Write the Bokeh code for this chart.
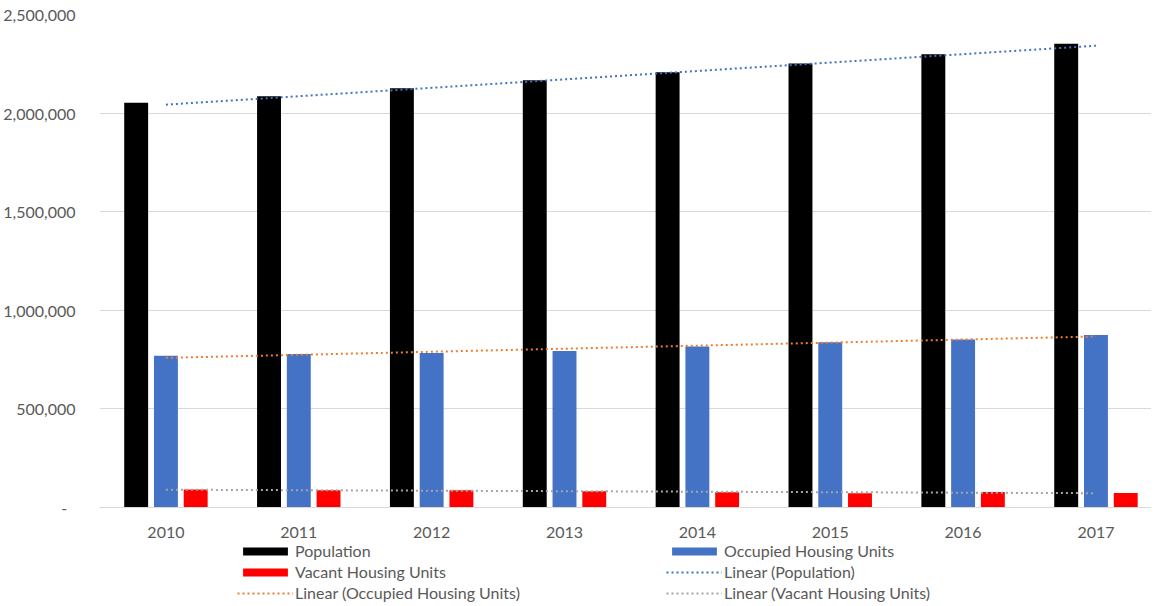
import numpy as np
from bokeh.plotting import figure
from bokeh.layouts import column
from bokeh.models import (ColumnDataSource, Range1d, FixedTicker, Legend, LegendItem,
                          NumeralTickFormatter)
from bokeh.transform import dodge
from bokeh.embed import file_html
from bokeh.resources import INLINE

years = ["2010", "2011", "2012", "2013", "2014", "2015", "2016", "2017"]
population = [2052000, 2085000, 2126000, 2166000, 2207000, 2252000, 2298000, 2352000]
occupied = [769000, 778000, 783000, 793000, 816000, 838000, 852000, 875000]
vacant = [91000, 87600, 87600, 82500, 77400, 72400, 79000, 74000]

FONT = "Lato"
TXT = "#595959"
C_POP, C_OCC, C_VAC = "#000000", "#4472C4", "#FF0000"
T_POP, T_OCC, T_VAC = "#4472C4", "#ED7D31", "#A5A5A5"
DASH = "2 3"

idx = np.arange(len(years))
src = ColumnDataSource(dict(x=idx, pop=population, occ=occupied, vac=vacant))


def trend(vals):
    k, b = np.polyfit(idx, vals, 1)
    return k * idx + b


tsrc = ColumnDataSource(dict(x=idx, tp=trend(population), to=trend(occupied), tv=trend(vacant)))

XR = Range1d(-0.5, 7.418)

p = figure(width=1151, height=540, output_backend="svg", toolbar_location=None,
           x_range=XR, y_range=Range1d(0, 2500000),
           min_border_left=90, min_border_right=0, min_border_top=14, min_border_bottom=32)
p.outline_line_color = None

bw = 0.18
off = 0.224
p.vbar(x=dodge("x", -off, range=p.x_range), top="pop", width=bw, source=src,
       fill_color=C_POP, line_color=None)
p.vbar(x=dodge("x", 0.0, range=p.x_range), top="occ", width=bw, source=src,
       fill_color=C_OCC, line_color=None)
p.vbar(x=dodge("x", off, range=p.x_range), top="vac", width=bw, source=src,
       fill_color=C_VAC, line_color=None)

p.line("x", "tp", source=tsrc, line_color=T_POP, line_width=2, line_dash=DASH)
p.line("x", "to", source=tsrc, line_color=T_OCC, line_width=2, line_dash=DASH)
p.line("x", "tv", source=tsrc, line_color=T_VAC, line_width=2, line_dash=DASH)

p.xaxis.ticker = FixedTicker(ticks=list(idx))
p.xaxis.major_label_overrides = {int(i): y for i, y in zip(idx, years)}
p.xaxis.axis_line_color = "#D9D9D9"
p.xaxis.axis_line_width = 1
p.xaxis.major_tick_line_color = None
p.xaxis.minor_tick_line_color = None
p.xaxis.major_label_standoff = 13
p.xaxis.major_label_text_font = FONT
p.xaxis.major_label_text_font_size = "16px"
p.xaxis.major_label_text_color = TXT

p.yaxis.ticker = FixedTicker(ticks=[0, 500000, 1000000, 1500000, 2000000, 2500000])
p.yaxis.formatter = NumeralTickFormatter(format="0,0")
p.yaxis.major_label_overrides = {0: "-\u00a0\u00a0"}
p.yaxis.axis_line_color = None
p.yaxis.major_tick_line_color = None
p.yaxis.minor_tick_line_color = None
p.yaxis.major_label_standoff = 18
p.yaxis.major_label_text_font = FONT
p.yaxis.major_label_text_font_size = "16px"
p.yaxis.major_label_text_color = TXT

p.xgrid.grid_line_color = None
p.ygrid.grid_line_color = "#D9D9D9"
p.ygrid.grid_line_width = 1

# legend strip below the chart (its glyph renderers are hidden; only the legend shows)
lg = figure(width=1151, height=66, output_backend="svg", toolbar_location=None,
            x_range=XR, y_range=Range1d(0, 2500000),
            min_border_left=0, min_border_right=0, min_border_top=0, min_border_bottom=0)
lg.axis.visible = False
lg.grid.visible = False
lg.outline_line_color = None
l_pop = lg.vbar(x="x", top="pop", width=bw, source=src, fill_color=C_POP, line_color=None, visible=False)
l_occ = lg.vbar(x="x", top="occ", width=bw, source=src, fill_color=C_OCC, line_color=None, visible=False)
l_vac = lg.vbar(x="x", top="vac", width=bw, source=src, fill_color=C_VAC, line_color=None, visible=False)
l_tp = lg.line("x", "tp", source=tsrc, line_color=T_POP, line_width=2, line_dash=DASH, visible=False)
l_to = lg.line("x", "to", source=tsrc, line_color=T_OCC, line_width=2, line_dash=DASH, visible=False)
l_tv = lg.line("x", "tv", source=tsrc, line_color=T_VAC, line_width=2, line_dash=DASH, visible=False)

items = [
    LegendItem(label="Population", renderers=[l_pop]),
    LegendItem(label="Vacant Housing Units", renderers=[l_vac]),
    LegendItem(label="Linear (Occupied Housing Units)", renderers=[l_to]),
    LegendItem(label="Occupied Housing Units", renderers=[l_occ]),
    LegendItem(label="Linear (Population)", renderers=[l_tp]),
    LegendItem(label="Linear (Vacant Housing Units)", renderers=[l_tv]),
]
legend = Legend(items=items, location=(138, 3), ncols=2,
                glyph_width=56, glyph_height=10, label_standoff=2,
                label_width=371, label_height=21, spacing=0, padding=0, margin=0,
                border_line_color=None, background_fill_alpha=0,
                inactive_fill_alpha=0,
                label_text_font=FONT, label_text_font_size="16px", label_text_color=TXT)
lg.add_layout(legend, "center")

layout = column(p, lg, spacing=0)
open("out.html", "w").write(file_html(layout, INLINE))
